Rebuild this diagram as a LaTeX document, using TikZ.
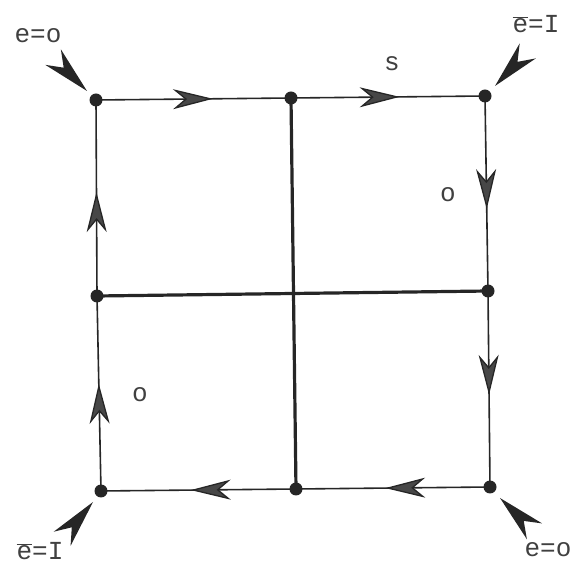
\documentclass[tikz,border=0pt]{standalone}
\usepackage{fontspec}
\setmainfont{Liberation Mono}
\usetikzlibrary{arrows.meta,decorations.markings,calc}
\begin{document}
\begin{tikzpicture}[x=1pt,y=-1pt,
  dot/.style={circle,fill=black!85,inner sep=0pt,minimum size=13pt},
  edge/.style={draw=black!85,line width=1.6pt,postaction={decorate},
    decoration={markings,mark=at position #1 with {\arrow{Stealth[length=40pt,width=20pt,inset=12pt,line width=1.3pt,fill=black!72]}}}},
  bar/.style={draw=black!85,line width=3.2pt},
  pointer/.style={fill=black!85},
  lbl/.style={font=\fontsize{26}{30}\selectfont,text=black!75,inner sep=0pt}]
\useasboundingbox (0,0) rectangle (579,569);
\node[dot] (tl) at (96,100) {};
\node[dot] (tm) at (291,98) {};
\node[dot] (tr) at (485,96) {};
\node[dot] (ml) at (97,296) {};
\node[dot] (mr) at (488,291) {};
\node[dot] (bl) at (101,491) {};
\node[dot] (bm) at (296,489) {};
\node[dot] (br) at (490,487) {};
% inner thick lines
\draw[bar] (tm.center) -- (bm.center);
\draw[bar] (ml.center) -- (mr.center);
% outer edges with arrows
\draw[edge=0.6] (tl.center) -- (tm.center);
\draw[edge=0.56] (tm.center) -- (tr.center);
\draw[edge=0.58] (tr.center) -- (mr.center);
\draw[edge=0.53] (mr.center) -- (br.center);
\draw[edge=0.54] (br.center) -- (bm.center);
\draw[edge=0.54] (bm.center) -- (bl.center);
\draw[edge=0.55] (bl.center) -- (ml.center);
\draw[edge=0.53] (ml.center) -- (tl.center);
% corner pointers
\fill[pointer,shift={($(tl)+(-9,-9)$)},rotate=-45] (0,0) -- (-48,-11) -- (-33,0) -- (-48,11) -- cycle;
\fill[pointer,shift={($(tr)+(10,-10)$)},rotate=-133] (0,0) -- (-48,-11) -- (-33,0) -- (-48,11) -- cycle;
\fill[pointer,shift={($(bl)+(-8,11)$)},rotate=50] (0,0) -- (-48,-11) -- (-33,0) -- (-48,11) -- cycle;
\fill[pointer,shift={($(br)+(10,11)$)},rotate=136] (0,0) -- (-48,-11) -- (-33,0) -- (-48,11) -- cycle;
% labels
\node[lbl] (l1) at (38,36) {e=o};
\node[lbl] (l2) at (536,24) {$\overline{\mbox{e}}$=I};
\node[lbl] (l3) at (40,551) {$\overline{\mbox{e}}$=I};
\node[lbl] (l4) at (548,550) {e=o};
\node[lbl] (s) at (392,64) {s};
\node[lbl] (o1) at (448,195) {o};
\node[lbl] (o2) at (140,395) {o};
\end{tikzpicture}
\end{document}
